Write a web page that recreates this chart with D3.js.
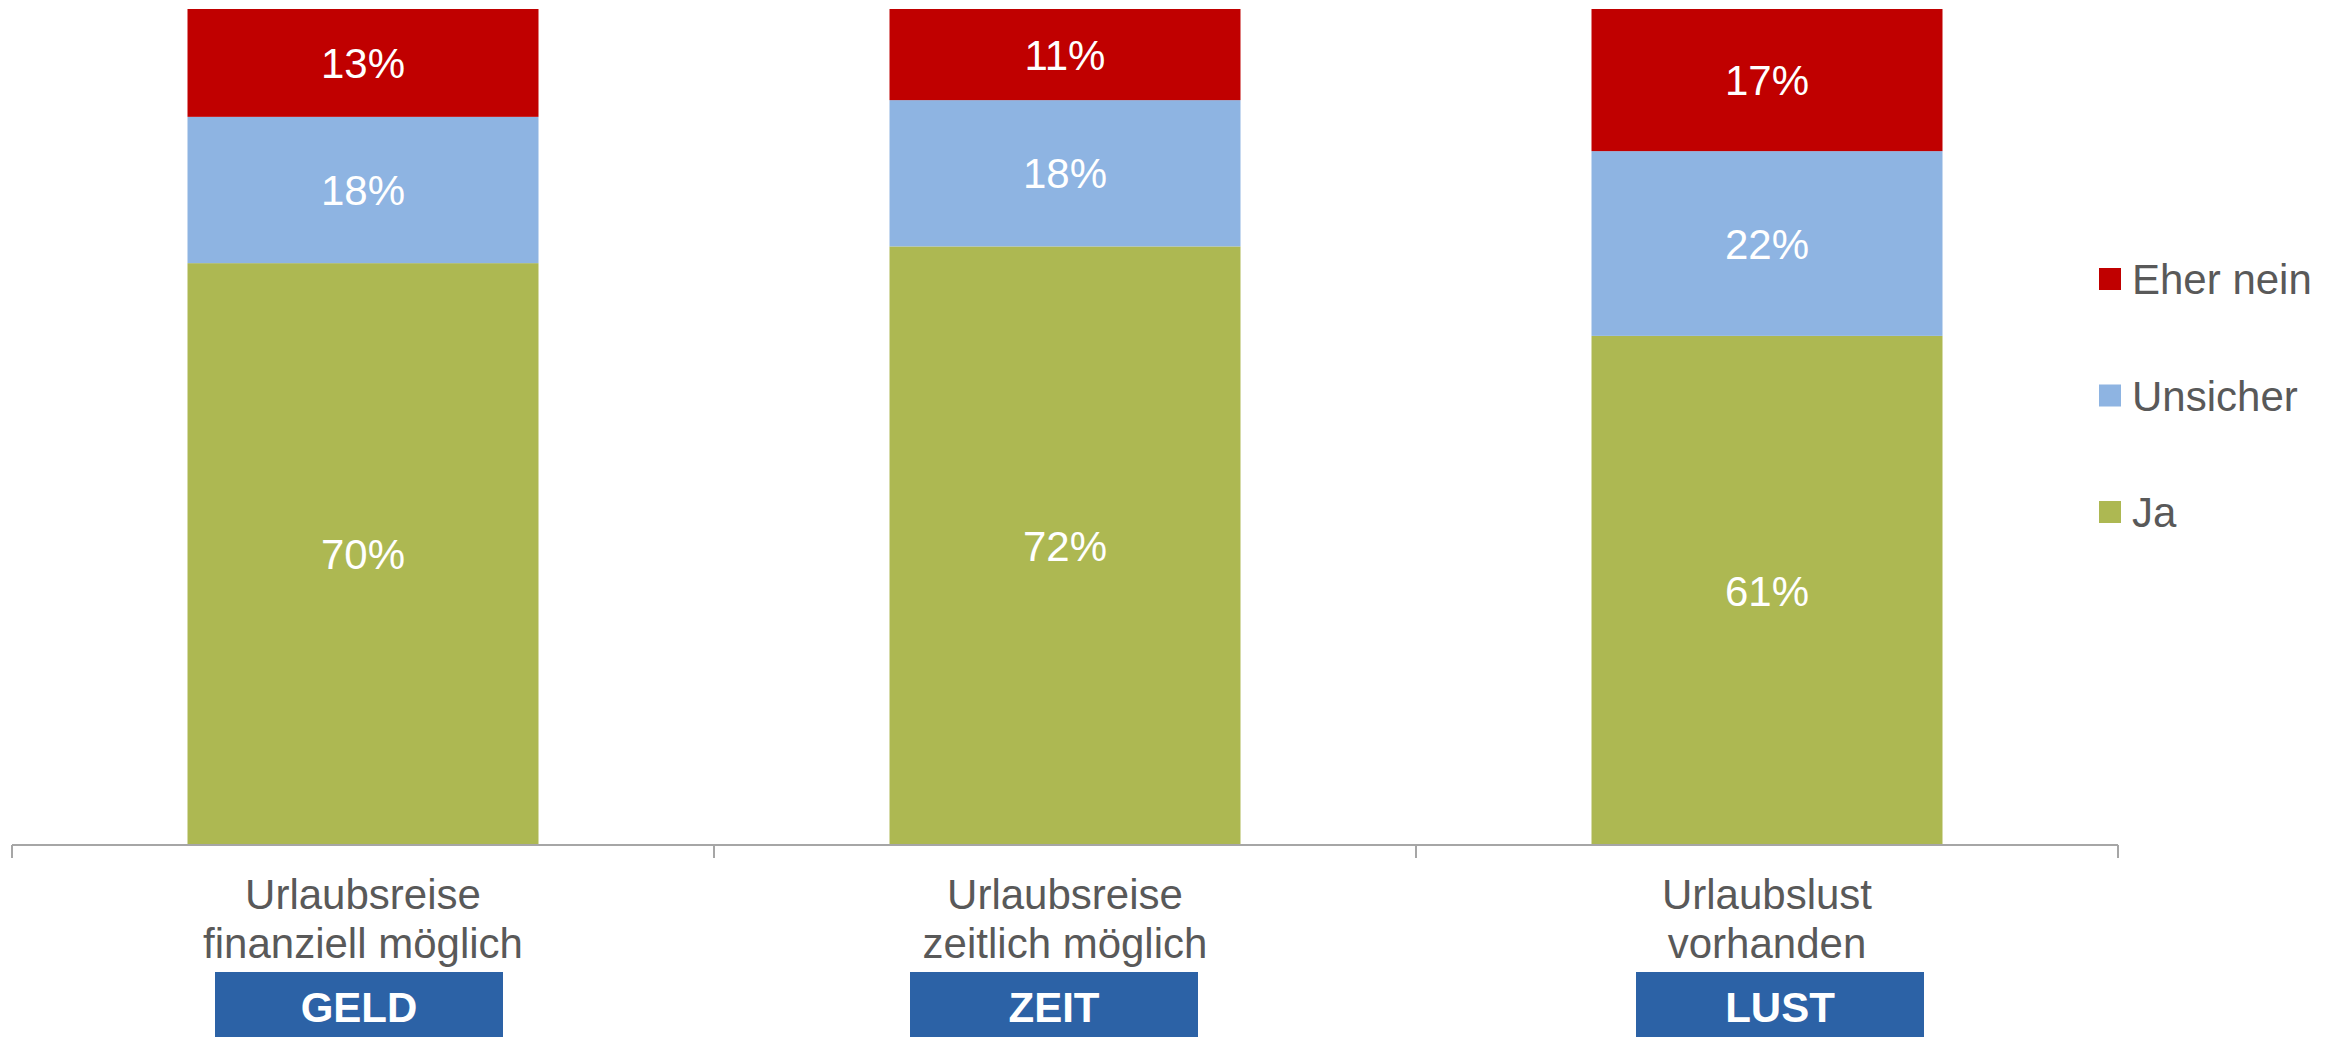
<!DOCTYPE html>
<html>
<head>
<meta charset="utf-8">
<script src="https://cdn.jsdelivr.net/npm/d3@7"></script>
<style>
  body { margin: 0; background: #fff; }
  svg { display: block; font-family: "Liberation Sans", Arial, sans-serif; }
</style>
</head>
<body>
<svg id="chart"></svg>
<script>
// data
var categories = ['Urlaubsreise finanziell möglich', 'Urlaubsreise zeitlich möglich', 'Urlaubslust vorhanden']
var categoryLines = [['Urlaubsreise', 'finanziell möglich'], ['Urlaubsreise', 'zeitlich möglich'], ['Urlaubslust', 'vorhanden']]
var tags = ['GELD', 'ZEIT', 'LUST']
var seriesNames = ['Ja', 'Unsicher', 'Eher nein']
var jaValues = [69.6, 71.6, 60.9]
var unsicherValues = [17.5, 17.5, 22.1]
var neinValues = [12.9, 10.9, 17.0]
var jaLabels = ['70%', '72%', '61%']
var unsicherLabels = ['18%', '18%', '22%']
var neinLabels = ['13%', '11%', '17%']

var colors = {'Ja': '#adb852', 'Unsicher': '#8eb4e2', 'Eher nein': '#c00000'}
var labelSets = {'Ja': jaLabels, 'Unsicher': unsicherLabels, 'Eher nein': neinLabels}

var width = 2340, height = 1037
var margin = {top: 9, left: 12, right: 222, bottom: 192}
// the tag boxes sit a little off the bar centres in the original
var tagShift = [-4, -11, 13]

var svg = d3.select('#chart')
    .attr('width', width)
    .attr('height', height)

var rows = categories.map(function (c, i) {
    return {cat: c, 'Ja': jaValues[i], 'Unsicher': unsicherValues[i], 'Eher nein': neinValues[i]}
})

var stack = d3.stack().keys(seriesNames).offset(d3.stackOffsetExpand)
var layers = stack(rows)

var xScale = d3.scaleBand()
    .domain(categories)
    .range([margin.left, width - margin.right])
    .paddingInner(0.5)
    .paddingOuter(0.25)
var yScale = d3.scaleLinear()
    .domain([0, 1])
    .range([height - margin.bottom, margin.top])

var g = svg.selectAll('g.layer')
    .data(layers)
    .enter()
    .append('g')
    .attr('class', 'layer')
    .style('fill', function (d) { return colors[d.key] })

g.selectAll('rect')
    .data(function (d) { return d })
    .enter()
    .append('rect')
    .attr('x', function (d) { return xScale(d.data.cat) })
    .attr('width', xScale.bandwidth())
    .attr('y', function (d) { return yScale(d[1]) })
    .attr('height', function (d) { return yScale(d[0]) - yScale(d[1]) })

layers.forEach(function (layer) {
    svg.append('g').selectAll('text')
        .data(layer)
        .enter()
        .append('text')
        .attr('x', function (d) { return xScale(d.data.cat) + xScale.bandwidth() / 2 })
        .attr('y', function (d) { return (yScale(d[0]) + yScale(d[1])) / 2 })
        .attr('dy', '0.36em')
        .attr('text-anchor', 'middle')
        .style('fill', '#fff')
        .style('font-size', '42px')
        .text(function (d, i) { return labelSets[layer.key][i] })
})

// axis line with ticks between categories
var axisY = height - margin.bottom
var step = xScale.step()
var tickXs = d3.range(categories.length + 1).map(function (i) { return margin.left + i * step })
svg.append('line')
    .attr('x1', margin.left).attr('x2', width - margin.right)
    .attr('y1', axisY).attr('y2', axisY)
    .style('stroke', '#a6a6a6').style('stroke-width', 2)
svg.selectAll('line.tick')
    .data(tickXs)
    .enter()
    .append('line')
    .attr('class', 'tick')
    .attr('x1', function (d) { return d }).attr('x2', function (d) { return d })
    .attr('y1', axisY).attr('y2', axisY + 13)
    .style('stroke', '#a6a6a6').style('stroke-width', 2)

// category labels
var catG = svg.append('g').selectAll('text')
    .data(categories)
    .enter()
    .append('text')
    .attr('text-anchor', 'middle')
    .style('fill', '#595959')
    .style('font-size', '42px')
catG.selectAll('tspan')
    .data(function (d, i) { return categoryLines[i].map(function (t) { return {t: t, c: d} }) })
    .enter()
    .append('tspan')
    .attr('x', function (d) { return xScale(d.c) + xScale.bandwidth() / 2 })
    .attr('y', function (d, j) { return 909 + j * 49 })
    .text(function (d) { return d.t })

// blue tags
var tagW = 288
function tagCenter(d, i) { return xScale(d) + xScale.bandwidth() / 2 + tagShift[i] }
svg.append('g').selectAll('rect')
    .data(categories)
    .enter()
    .append('rect')
    .attr('x', function (d, i) { return tagCenter(d, i) - tagW / 2 })
    .attr('y', 972)
    .attr('width', tagW)
    .attr('height', 80)
    .style('fill', '#2c62a6')
svg.append('g').selectAll('text')
    .data(categories)
    .enter()
    .append('text')
    .attr('x', function (d, i) { return tagCenter(d, i) })
    .attr('y', 1022)
    .attr('text-anchor', 'middle')
    .style('fill', '#fff')
    .style('font-size', '42px')
    .style('font-weight', 'bold')
    .text(function (d, i) { return tags[i] })

// legend
var legendKeys = seriesNames.slice().reverse()
var legend = svg.append('g').selectAll('g')
    .data(legendKeys)
    .enter()
    .append('g')
    .attr('transform', function (d, i) { return 'translate(2099,' + (279 + i * 116.5) + ')' })
legend.append('rect')
    .attr('x', 0).attr('y', -11)
    .attr('width', 22).attr('height', 22)
    .style('fill', function (d) { return colors[d] })
legend.append('text')
    .attr('x', 33)
    .attr('dy', '0.36em')
    .style('fill', '#595959')
    .style('font-size', '42px')
    .text(function (d) { return d })
</script>
</body>
</html>
